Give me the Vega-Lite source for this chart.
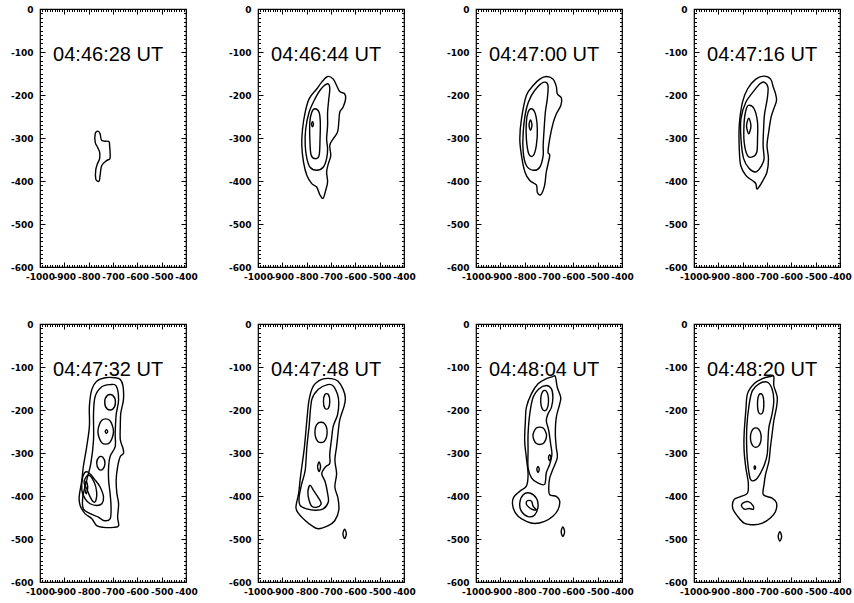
{
"$schema": "https://vega.github.io/schema/vega-lite/v6.json",
"padding": {"left": 9, "top": 3, "right": 0, "bottom": 0},
"background": "white",
"data": {"values": [
{"t":"04:46:28 UT","c":1,"i":0,"x":-773,"y":-290},{"t":"04:46:28 UT","c":1,"i":1,"x":-762,"y":-284},{"t":"04:46:28 UT","c":1,"i":2,"x":-753,"y":-290},{"t":"04:46:28 UT","c":1,"i":3,"x":-746,"y":-306},{"t":"04:46:28 UT","c":1,"i":4,"x":-718,"y":-308},{"t":"04:46:28 UT","c":1,"i":5,"x":-714,"y":-317},{"t":"04:46:28 UT","c":1,"i":6,"x":-712,"y":-347},{"t":"04:46:28 UT","c":1,"i":7,"x":-725,"y":-352},{"t":"04:46:28 UT","c":1,"i":8,"x":-746,"y":-364},{"t":"04:46:28 UT","c":1,"i":9,"x":-753,"y":-387},{"t":"04:46:28 UT","c":1,"i":10,"x":-756,"y":-399},{"t":"04:46:28 UT","c":1,"i":11,"x":-762,"y":-401},{"t":"04:46:28 UT","c":1,"i":12,"x":-771,"y":-395},{"t":"04:46:28 UT","c":1,"i":13,"x":-771,"y":-375},{"t":"04:46:28 UT","c":1,"i":14,"x":-764,"y":-360},{"t":"04:46:28 UT","c":1,"i":15,"x":-755,"y":-348},{"t":"04:46:28 UT","c":1,"i":16,"x":-755,"y":-333},{"t":"04:46:28 UT","c":1,"i":17,"x":-764,"y":-321},{"t":"04:46:28 UT","c":1,"i":18,"x":-773,"y":-310},

{"t":"04:46:44 UT","c":1,"i":0,"x":-714,"y":-157},{"t":"04:46:44 UT","c":1,"i":1,"x":-691,"y":-163},{"t":"04:46:44 UT","c":1,"i":2,"x":-677,"y":-178},{"t":"04:46:44 UT","c":1,"i":3,"x":-664,"y":-192},{"t":"04:46:44 UT","c":1,"i":4,"x":-644,"y":-197},{"t":"04:46:44 UT","c":1,"i":5,"x":-640,"y":-209},{"t":"04:46:44 UT","c":1,"i":6,"x":-650,"y":-228},{"t":"04:46:44 UT","c":1,"i":7,"x":-664,"y":-240},{"t":"04:46:44 UT","c":1,"i":8,"x":-668,"y":-263},{"t":"04:46:44 UT","c":1,"i":9,"x":-673,"y":-286},{"t":"04:46:44 UT","c":1,"i":10,"x":-691,"y":-302},{"t":"04:46:44 UT","c":1,"i":11,"x":-705,"y":-317},{"t":"04:46:44 UT","c":1,"i":12,"x":-701,"y":-341},{"t":"04:46:44 UT","c":1,"i":13,"x":-711,"y":-360},{"t":"04:46:44 UT","c":1,"i":14,"x":-718,"y":-379},{"t":"04:46:44 UT","c":1,"i":15,"x":-714,"y":-402},{"t":"04:46:44 UT","c":1,"i":16,"x":-722,"y":-422},{"t":"04:46:44 UT","c":1,"i":17,"x":-732,"y":-440},{"t":"04:46:44 UT","c":1,"i":18,"x":-745,"y":-433},{"t":"04:46:44 UT","c":1,"i":19,"x":-759,"y":-414},{"t":"04:46:44 UT","c":1,"i":20,"x":-779,"y":-406},{"t":"04:46:44 UT","c":1,"i":21,"x":-799,"y":-387},{"t":"04:46:44 UT","c":1,"i":22,"x":-813,"y":-356},{"t":"04:46:44 UT","c":1,"i":23,"x":-820,"y":-317},{"t":"04:46:44 UT","c":1,"i":24,"x":-817,"y":-279},{"t":"04:46:44 UT","c":1,"i":25,"x":-806,"y":-240},{"t":"04:46:44 UT","c":1,"i":26,"x":-790,"y":-209},{"t":"04:46:44 UT","c":1,"i":27,"x":-759,"y":-186},{"t":"04:46:44 UT","c":1,"i":28,"x":-738,"y":-170},
{"t":"04:46:44 UT","c":2,"i":0,"x":-714,"y":-174},{"t":"04:46:44 UT","c":2,"i":1,"x":-705,"y":-184},{"t":"04:46:44 UT","c":2,"i":2,"x":-709,"y":-209},{"t":"04:46:44 UT","c":2,"i":3,"x":-714,"y":-240},{"t":"04:46:44 UT","c":2,"i":4,"x":-714,"y":-271},{"t":"04:46:44 UT","c":2,"i":5,"x":-718,"y":-302},{"t":"04:46:44 UT","c":2,"i":6,"x":-714,"y":-325},{"t":"04:46:44 UT","c":2,"i":7,"x":-718,"y":-348},{"t":"04:46:44 UT","c":2,"i":8,"x":-732,"y":-368},{"t":"04:46:44 UT","c":2,"i":9,"x":-759,"y":-375},{"t":"04:46:44 UT","c":2,"i":10,"x":-786,"y":-368},{"t":"04:46:44 UT","c":2,"i":11,"x":-799,"y":-348},{"t":"04:46:44 UT","c":2,"i":12,"x":-806,"y":-317},{"t":"04:46:44 UT","c":2,"i":13,"x":-804,"y":-279},{"t":"04:46:44 UT","c":2,"i":14,"x":-790,"y":-240},{"t":"04:46:44 UT","c":2,"i":15,"x":-766,"y":-209},{"t":"04:46:44 UT","c":2,"i":16,"x":-741,"y":-186},
{"t":"04:46:44 UT","c":3,"i":0,"x":-766,"y":-232},{"t":"04:46:44 UT","c":3,"i":1,"x":-749,"y":-240},{"t":"04:46:44 UT","c":3,"i":2,"x":-744,"y":-263},{"t":"04:46:44 UT","c":3,"i":3,"x":-745,"y":-302},{"t":"04:46:44 UT","c":3,"i":4,"x":-749,"y":-341},{"t":"04:46:44 UT","c":3,"i":5,"x":-766,"y":-348},{"t":"04:46:44 UT","c":3,"i":6,"x":-782,"y":-339},{"t":"04:46:44 UT","c":3,"i":7,"x":-787,"y":-302},{"t":"04:46:44 UT","c":3,"i":8,"x":-787,"y":-263},{"t":"04:46:44 UT","c":3,"i":9,"x":-779,"y":-240},
{"t":"04:46:44 UT","c":4,"i":0,"x":-772,"y":-268},{"t":"04:46:44 UT","c":4,"i":1,"x":-776,"y":-262},{"t":"04:46:44 UT","c":4,"i":2,"x":-780,"y":-268},{"t":"04:46:44 UT","c":4,"i":3,"x":-776,"y":-274},

{"t":"04:47:00 UT","c":1,"i":0,"x":-711,"y":-157},{"t":"04:47:00 UT","c":1,"i":1,"x":-684,"y":-163},{"t":"04:47:00 UT","c":1,"i":2,"x":-670,"y":-180},{"t":"04:47:00 UT","c":1,"i":3,"x":-666,"y":-197},{"t":"04:47:00 UT","c":1,"i":4,"x":-649,"y":-207},{"t":"04:47:00 UT","c":1,"i":5,"x":-651,"y":-224},{"t":"04:47:00 UT","c":1,"i":6,"x":-670,"y":-244},{"t":"04:47:00 UT","c":1,"i":7,"x":-684,"y":-267},{"t":"04:47:00 UT","c":1,"i":8,"x":-697,"y":-302},{"t":"04:47:00 UT","c":1,"i":9,"x":-704,"y":-333},{"t":"04:47:00 UT","c":1,"i":10,"x":-697,"y":-341},{"t":"04:47:00 UT","c":1,"i":11,"x":-711,"y":-379},{"t":"04:47:00 UT","c":1,"i":12,"x":-718,"y":-410},{"t":"04:47:00 UT","c":1,"i":13,"x":-734,"y":-432},{"t":"04:47:00 UT","c":1,"i":14,"x":-748,"y":-426},{"t":"04:47:00 UT","c":1,"i":15,"x":-752,"y":-409},{"t":"04:47:00 UT","c":1,"i":16,"x":-779,"y":-399},{"t":"04:47:00 UT","c":1,"i":17,"x":-799,"y":-379},{"t":"04:47:00 UT","c":1,"i":18,"x":-813,"y":-341},{"t":"04:47:00 UT","c":1,"i":19,"x":-820,"y":-302},{"t":"04:47:00 UT","c":1,"i":20,"x":-813,"y":-255},{"t":"04:47:00 UT","c":1,"i":21,"x":-793,"y":-201},{"t":"04:47:00 UT","c":1,"i":22,"x":-765,"y":-178},{"t":"04:47:00 UT","c":1,"i":23,"x":-738,"y":-163},
{"t":"04:47:00 UT","c":2,"i":0,"x":-718,"y":-170},{"t":"04:47:00 UT","c":2,"i":1,"x":-704,"y":-178},{"t":"04:47:00 UT","c":2,"i":2,"x":-707,"y":-209},{"t":"04:47:00 UT","c":2,"i":3,"x":-715,"y":-240},{"t":"04:47:00 UT","c":2,"i":4,"x":-720,"y":-279},{"t":"04:47:00 UT","c":2,"i":5,"x":-724,"y":-317},{"t":"04:47:00 UT","c":2,"i":6,"x":-724,"y":-341},{"t":"04:47:00 UT","c":2,"i":7,"x":-738,"y":-368},{"t":"04:47:00 UT","c":2,"i":8,"x":-765,"y":-375},{"t":"04:47:00 UT","c":2,"i":9,"x":-793,"y":-364},{"t":"04:47:00 UT","c":2,"i":10,"x":-806,"y":-333},{"t":"04:47:00 UT","c":2,"i":11,"x":-806,"y":-286},{"t":"04:47:00 UT","c":2,"i":12,"x":-793,"y":-232},{"t":"04:47:00 UT","c":2,"i":13,"x":-772,"y":-201},{"t":"04:47:00 UT","c":2,"i":14,"x":-745,"y":-180},
{"t":"04:47:00 UT","c":3,"i":0,"x":-772,"y":-232},{"t":"04:47:00 UT","c":3,"i":1,"x":-756,"y":-244},{"t":"04:47:00 UT","c":3,"i":2,"x":-748,"y":-279},{"t":"04:47:00 UT","c":3,"i":3,"x":-752,"y":-317},{"t":"04:47:00 UT","c":3,"i":4,"x":-765,"y":-341},{"t":"04:47:00 UT","c":3,"i":5,"x":-783,"y":-337},{"t":"04:47:00 UT","c":3,"i":6,"x":-793,"y":-302},{"t":"04:47:00 UT","c":3,"i":7,"x":-793,"y":-263},{"t":"04:47:00 UT","c":3,"i":8,"x":-786,"y":-240},
{"t":"04:47:00 UT","c":4,"i":0,"x":-770,"y":-270},{"t":"04:47:00 UT","c":4,"i":1,"x":-776,"y":-258},{"t":"04:47:00 UT","c":4,"i":2,"x":-782,"y":-270},{"t":"04:47:00 UT","c":4,"i":3,"x":-776,"y":-282},

{"t":"04:47:16 UT","c":1,"i":0,"x":-712,"y":-156},{"t":"04:47:16 UT","c":1,"i":1,"x":-685,"y":-163},{"t":"04:47:16 UT","c":1,"i":2,"x":-674,"y":-182},{"t":"04:47:16 UT","c":1,"i":3,"x":-665,"y":-197},{"t":"04:47:16 UT","c":1,"i":4,"x":-661,"y":-213},{"t":"04:47:16 UT","c":1,"i":5,"x":-672,"y":-232},{"t":"04:47:16 UT","c":1,"i":6,"x":-683,"y":-251},{"t":"04:47:16 UT","c":1,"i":7,"x":-693,"y":-286},{"t":"04:47:16 UT","c":1,"i":8,"x":-700,"y":-317},{"t":"04:47:16 UT","c":1,"i":9,"x":-694,"y":-348},{"t":"04:47:16 UT","c":1,"i":10,"x":-700,"y":-379},{"t":"04:47:16 UT","c":1,"i":11,"x":-717,"y":-399},{"t":"04:47:16 UT","c":1,"i":12,"x":-733,"y":-414},{"t":"04:47:16 UT","c":1,"i":13,"x":-742,"y":-418},{"t":"04:47:16 UT","c":1,"i":14,"x":-746,"y":-406},{"t":"04:47:16 UT","c":1,"i":15,"x":-760,"y":-399},{"t":"04:47:16 UT","c":1,"i":16,"x":-787,"y":-387},{"t":"04:47:16 UT","c":1,"i":17,"x":-808,"y":-364},{"t":"04:47:16 UT","c":1,"i":18,"x":-814,"y":-325},{"t":"04:47:16 UT","c":1,"i":19,"x":-814,"y":-271},{"t":"04:47:16 UT","c":1,"i":20,"x":-801,"y":-217},{"t":"04:47:16 UT","c":1,"i":21,"x":-780,"y":-186},{"t":"04:47:16 UT","c":1,"i":22,"x":-746,"y":-163},
{"t":"04:47:16 UT","c":2,"i":0,"x":-712,"y":-170},{"t":"04:47:16 UT","c":2,"i":1,"x":-696,"y":-182},{"t":"04:47:16 UT","c":2,"i":2,"x":-699,"y":-209},{"t":"04:47:16 UT","c":2,"i":3,"x":-710,"y":-244},{"t":"04:47:16 UT","c":2,"i":4,"x":-714,"y":-279},{"t":"04:47:16 UT","c":2,"i":5,"x":-716,"y":-317},{"t":"04:47:16 UT","c":2,"i":6,"x":-712,"y":-348},{"t":"04:47:16 UT","c":2,"i":7,"x":-722,"y":-364},{"t":"04:47:16 UT","c":2,"i":8,"x":-746,"y":-379},{"t":"04:47:16 UT","c":2,"i":9,"x":-773,"y":-371},{"t":"04:47:16 UT","c":2,"i":10,"x":-796,"y":-348},{"t":"04:47:16 UT","c":2,"i":11,"x":-807,"y":-302},{"t":"04:47:16 UT","c":2,"i":12,"x":-807,"y":-255},{"t":"04:47:16 UT","c":2,"i":13,"x":-787,"y":-217},{"t":"04:47:16 UT","c":2,"i":14,"x":-753,"y":-190},{"t":"04:47:16 UT","c":2,"i":15,"x":-729,"y":-174},
{"t":"04:47:16 UT","c":3,"i":0,"x":-776,"y":-224},{"t":"04:47:16 UT","c":3,"i":1,"x":-753,"y":-232},{"t":"04:47:16 UT","c":3,"i":2,"x":-739,"y":-263},{"t":"04:47:16 UT","c":3,"i":3,"x":-739,"y":-302},{"t":"04:47:16 UT","c":3,"i":4,"x":-742,"y":-333},{"t":"04:47:16 UT","c":3,"i":5,"x":-760,"y":-344},{"t":"04:47:16 UT","c":3,"i":6,"x":-780,"y":-341},{"t":"04:47:16 UT","c":3,"i":7,"x":-794,"y":-309},{"t":"04:47:16 UT","c":3,"i":8,"x":-794,"y":-263},{"t":"04:47:16 UT","c":3,"i":9,"x":-787,"y":-236},
{"t":"04:47:16 UT","c":4,"i":0,"x":-766,"y":-272},{"t":"04:47:16 UT","c":4,"i":1,"x":-775,"y":-254},{"t":"04:47:16 UT","c":4,"i":2,"x":-784,"y":-272},{"t":"04:47:16 UT","c":4,"i":3,"x":-775,"y":-290},

{"t":"04:47:32 UT","c":1,"i":0,"x":-691,"y":-125},{"t":"04:47:32 UT","c":1,"i":1,"x":-670,"y":-129},{"t":"04:47:32 UT","c":1,"i":2,"x":-659,"y":-144},{"t":"04:47:32 UT","c":1,"i":3,"x":-657,"y":-176},{"t":"04:47:32 UT","c":1,"i":4,"x":-668,"y":-207},{"t":"04:47:32 UT","c":1,"i":5,"x":-670,"y":-238},{"t":"04:47:32 UT","c":1,"i":6,"x":-670,"y":-269},{"t":"04:47:32 UT","c":1,"i":7,"x":-659,"y":-289},{"t":"04:47:32 UT","c":1,"i":8,"x":-657,"y":-301},{"t":"04:47:32 UT","c":1,"i":9,"x":-670,"y":-308},{"t":"04:47:32 UT","c":1,"i":10,"x":-681,"y":-332},{"t":"04:47:32 UT","c":1,"i":11,"x":-687,"y":-363},{"t":"04:47:32 UT","c":1,"i":12,"x":-684,"y":-394},{"t":"04:47:32 UT","c":1,"i":13,"x":-677,"y":-418},{"t":"04:47:32 UT","c":1,"i":14,"x":-681,"y":-449},{"t":"04:47:32 UT","c":1,"i":15,"x":-677,"y":-469},{"t":"04:47:32 UT","c":1,"i":16,"x":-698,"y":-473},{"t":"04:47:32 UT","c":1,"i":17,"x":-739,"y":-473},{"t":"04:47:32 UT","c":1,"i":18,"x":-767,"y":-469},{"t":"04:47:32 UT","c":1,"i":19,"x":-787,"y":-453},{"t":"04:47:32 UT","c":1,"i":20,"x":-815,"y":-441},{"t":"04:47:32 UT","c":1,"i":21,"x":-835,"y":-422},{"t":"04:47:32 UT","c":1,"i":22,"x":-839,"y":-402},{"t":"04:47:32 UT","c":1,"i":23,"x":-828,"y":-363},{"t":"04:47:32 UT","c":1,"i":24,"x":-822,"y":-332},{"t":"04:47:32 UT","c":1,"i":25,"x":-808,"y":-285},{"t":"04:47:32 UT","c":1,"i":26,"x":-797,"y":-238},{"t":"04:47:32 UT","c":1,"i":27,"x":-797,"y":-191},{"t":"04:47:32 UT","c":1,"i":28,"x":-787,"y":-152},{"t":"04:47:32 UT","c":1,"i":29,"x":-767,"y":-133},{"t":"04:47:32 UT","c":1,"i":30,"x":-732,"y":-125},
{"t":"04:47:32 UT","c":2,"i":0,"x":-712,"y":-141},{"t":"04:47:32 UT","c":2,"i":1,"x":-687,"y":-144},{"t":"04:47:32 UT","c":2,"i":2,"x":-677,"y":-176},{"t":"04:47:32 UT","c":2,"i":3,"x":-687,"y":-211},{"t":"04:47:32 UT","c":2,"i":4,"x":-691,"y":-254},{"t":"04:47:32 UT","c":2,"i":5,"x":-691,"y":-285},{"t":"04:47:32 UT","c":2,"i":6,"x":-712,"y":-308},{"t":"04:47:32 UT","c":2,"i":7,"x":-718,"y":-332},{"t":"04:47:32 UT","c":2,"i":8,"x":-718,"y":-363},{"t":"04:47:32 UT","c":2,"i":9,"x":-712,"y":-394},{"t":"04:47:32 UT","c":2,"i":10,"x":-708,"y":-426},{"t":"04:47:32 UT","c":2,"i":11,"x":-712,"y":-453},{"t":"04:47:32 UT","c":2,"i":12,"x":-739,"y":-457},{"t":"04:47:32 UT","c":2,"i":13,"x":-760,"y":-449},{"t":"04:47:32 UT","c":2,"i":14,"x":-794,"y":-441},{"t":"04:47:32 UT","c":2,"i":15,"x":-822,"y":-430},{"t":"04:47:32 UT","c":2,"i":16,"x":-824,"y":-402},{"t":"04:47:32 UT","c":2,"i":17,"x":-808,"y":-363},{"t":"04:47:32 UT","c":2,"i":18,"x":-791,"y":-324},{"t":"04:47:32 UT","c":2,"i":19,"x":-780,"y":-269},{"t":"04:47:32 UT","c":2,"i":20,"x":-780,"y":-207},{"t":"04:47:32 UT","c":2,"i":21,"x":-773,"y":-168},{"t":"04:47:32 UT","c":2,"i":22,"x":-746,"y":-146},
{"t":"04:47:32 UT","c":3,"i":0,"x":-690,"y":-182},{"t":"04:47:32 UT","c":3,"i":1,"x":-701,"y":-166},{"t":"04:47:32 UT","c":3,"i":2,"x":-723,"y":-166},{"t":"04:47:32 UT","c":3,"i":3,"x":-734,"y":-182},{"t":"04:47:32 UT","c":3,"i":4,"x":-723,"y":-198},{"t":"04:47:32 UT","c":3,"i":5,"x":-701,"y":-198},
{"t":"04:47:32 UT","c":4,"i":0,"x":-698,"y":-250},{"t":"04:47:32 UT","c":4,"i":1,"x":-714,"y":-224},{"t":"04:47:32 UT","c":4,"i":2,"x":-746,"y":-224},{"t":"04:47:32 UT","c":4,"i":3,"x":-762,"y":-250},{"t":"04:47:32 UT","c":4,"i":4,"x":-746,"y":-276},{"t":"04:47:32 UT","c":4,"i":5,"x":-714,"y":-276},
{"t":"04:47:32 UT","c":5,"i":0,"x":-722,"y":-250},{"t":"04:47:32 UT","c":5,"i":1,"x":-727,"y":-246},{"t":"04:47:32 UT","c":5,"i":2,"x":-732,"y":-250},{"t":"04:47:32 UT","c":5,"i":3,"x":-727,"y":-254},
{"t":"04:47:32 UT","c":6,"i":0,"x":-733,"y":-324},{"t":"04:47:32 UT","c":6,"i":1,"x":-742,"y":-310},{"t":"04:47:32 UT","c":6,"i":2,"x":-758,"y":-310},{"t":"04:47:32 UT","c":6,"i":3,"x":-767,"y":-324},{"t":"04:47:32 UT","c":6,"i":4,"x":-758,"y":-338},{"t":"04:47:32 UT","c":6,"i":5,"x":-742,"y":-338},
{"t":"04:47:32 UT","c":7,"i":0,"x":-805,"y":-344},{"t":"04:47:32 UT","c":7,"i":1,"x":-773,"y":-363},{"t":"04:47:32 UT","c":7,"i":2,"x":-753,"y":-379},{"t":"04:47:32 UT","c":7,"i":3,"x":-739,"y":-402},{"t":"04:47:32 UT","c":7,"i":4,"x":-746,"y":-418},{"t":"04:47:32 UT","c":7,"i":5,"x":-767,"y":-422},{"t":"04:47:32 UT","c":7,"i":6,"x":-794,"y":-418},{"t":"04:47:32 UT","c":7,"i":7,"x":-815,"y":-406},{"t":"04:47:32 UT","c":7,"i":8,"x":-828,"y":-387},{"t":"04:47:32 UT","c":7,"i":9,"x":-824,"y":-355},
{"t":"04:47:32 UT","c":8,"i":0,"x":-801,"y":-351},{"t":"04:47:32 UT","c":8,"i":1,"x":-778,"y":-367},{"t":"04:47:32 UT","c":8,"i":2,"x":-767,"y":-391},{"t":"04:47:32 UT","c":8,"i":3,"x":-770,"y":-410},{"t":"04:47:32 UT","c":8,"i":4,"x":-780,"y":-414},{"t":"04:47:32 UT","c":8,"i":5,"x":-794,"y":-402},{"t":"04:47:32 UT","c":8,"i":6,"x":-808,"y":-383},{"t":"04:47:32 UT","c":8,"i":7,"x":-819,"y":-367},
{"t":"04:47:32 UT","c":9,"i":0,"x":-804,"y":-380},{"t":"04:47:32 UT","c":9,"i":1,"x":-810,"y":-365},{"t":"04:47:32 UT","c":9,"i":2,"x":-816,"y":-380},{"t":"04:47:32 UT","c":9,"i":3,"x":-810,"y":-395},

{"t":"04:47:48 UT","c":1,"i":0,"x":-698,"y":-127},{"t":"04:47:48 UT","c":1,"i":1,"x":-671,"y":-133},{"t":"04:47:48 UT","c":1,"i":2,"x":-650,"y":-152},{"t":"04:47:48 UT","c":1,"i":3,"x":-641,"y":-172},{"t":"04:47:48 UT","c":1,"i":4,"x":-646,"y":-191},{"t":"04:47:48 UT","c":1,"i":5,"x":-664,"y":-223},{"t":"04:47:48 UT","c":1,"i":6,"x":-671,"y":-254},{"t":"04:47:48 UT","c":1,"i":7,"x":-677,"y":-285},{"t":"04:47:48 UT","c":1,"i":8,"x":-684,"y":-316},{"t":"04:47:48 UT","c":1,"i":9,"x":-677,"y":-348},{"t":"04:47:48 UT","c":1,"i":10,"x":-684,"y":-379},{"t":"04:47:48 UT","c":1,"i":11,"x":-671,"y":-406},{"t":"04:47:48 UT","c":1,"i":12,"x":-668,"y":-433},{"t":"04:47:48 UT","c":1,"i":13,"x":-684,"y":-457},{"t":"04:47:48 UT","c":1,"i":14,"x":-711,"y":-469},{"t":"04:47:48 UT","c":1,"i":15,"x":-752,"y":-476},{"t":"04:47:48 UT","c":1,"i":16,"x":-779,"y":-469},{"t":"04:47:48 UT","c":1,"i":17,"x":-806,"y":-457},{"t":"04:47:48 UT","c":1,"i":18,"x":-833,"y":-441},{"t":"04:47:48 UT","c":1,"i":19,"x":-844,"y":-426},{"t":"04:47:48 UT","c":1,"i":20,"x":-833,"y":-394},{"t":"04:47:48 UT","c":1,"i":21,"x":-827,"y":-363},{"t":"04:47:48 UT","c":1,"i":22,"x":-820,"y":-332},{"t":"04:47:48 UT","c":1,"i":23,"x":-809,"y":-285},{"t":"04:47:48 UT","c":1,"i":24,"x":-799,"y":-223},{"t":"04:47:48 UT","c":1,"i":25,"x":-790,"y":-176},{"t":"04:47:48 UT","c":1,"i":26,"x":-772,"y":-144},{"t":"04:47:48 UT","c":1,"i":27,"x":-738,"y":-129},
{"t":"04:47:48 UT","c":2,"i":0,"x":-714,"y":-141},{"t":"04:47:48 UT","c":2,"i":1,"x":-691,"y":-144},{"t":"04:47:48 UT","c":2,"i":2,"x":-673,"y":-164},{"t":"04:47:48 UT","c":2,"i":3,"x":-668,"y":-184},{"t":"04:47:48 UT","c":2,"i":4,"x":-673,"y":-211},{"t":"04:47:48 UT","c":2,"i":5,"x":-691,"y":-238},{"t":"04:47:48 UT","c":2,"i":6,"x":-698,"y":-269},{"t":"04:47:48 UT","c":2,"i":7,"x":-705,"y":-301},{"t":"04:47:48 UT","c":2,"i":8,"x":-705,"y":-324},{"t":"04:47:48 UT","c":2,"i":9,"x":-722,"y":-332},{"t":"04:47:48 UT","c":2,"i":10,"x":-738,"y":-348},{"t":"04:47:48 UT","c":2,"i":11,"x":-724,"y":-367},{"t":"04:47:48 UT","c":2,"i":12,"x":-714,"y":-394},{"t":"04:47:48 UT","c":2,"i":13,"x":-711,"y":-414},{"t":"04:47:48 UT","c":2,"i":14,"x":-732,"y":-430},{"t":"04:47:48 UT","c":2,"i":15,"x":-765,"y":-433},{"t":"04:47:48 UT","c":2,"i":16,"x":-799,"y":-430},{"t":"04:47:48 UT","c":2,"i":17,"x":-827,"y":-422},{"t":"04:47:48 UT","c":2,"i":18,"x":-831,"y":-402},{"t":"04:47:48 UT","c":2,"i":19,"x":-820,"y":-371},{"t":"04:47:48 UT","c":2,"i":20,"x":-806,"y":-340},{"t":"04:47:48 UT","c":2,"i":21,"x":-799,"y":-285},{"t":"04:47:48 UT","c":2,"i":22,"x":-790,"y":-238},{"t":"04:47:48 UT","c":2,"i":23,"x":-779,"y":-176},{"t":"04:47:48 UT","c":2,"i":24,"x":-752,"y":-152},
{"t":"04:47:48 UT","c":3,"i":0,"x":-705,"y":-180},{"t":"04:47:48 UT","c":3,"i":1,"x":-711,"y":-164},{"t":"04:47:48 UT","c":3,"i":2,"x":-725,"y":-164},{"t":"04:47:48 UT","c":3,"i":3,"x":-731,"y":-180},{"t":"04:47:48 UT","c":3,"i":4,"x":-725,"y":-196},{"t":"04:47:48 UT","c":3,"i":5,"x":-711,"y":-196},
{"t":"04:47:48 UT","c":4,"i":0,"x":-716,"y":-252},{"t":"04:47:48 UT","c":4,"i":1,"x":-728,"y":-231},{"t":"04:47:48 UT","c":4,"i":2,"x":-754,"y":-231},{"t":"04:47:48 UT","c":4,"i":3,"x":-766,"y":-252},{"t":"04:47:48 UT","c":4,"i":4,"x":-754,"y":-273},{"t":"04:47:48 UT","c":4,"i":5,"x":-728,"y":-273},
{"t":"04:47:48 UT","c":5,"i":0,"x":-743,"y":-332},{"t":"04:47:48 UT","c":5,"i":1,"x":-749,"y":-321},{"t":"04:47:48 UT","c":5,"i":2,"x":-755,"y":-332},{"t":"04:47:48 UT","c":5,"i":3,"x":-749,"y":-343},
{"t":"04:47:48 UT","c":6,"i":0,"x":-786,"y":-375},{"t":"04:47:48 UT","c":6,"i":1,"x":-772,"y":-387},{"t":"04:47:48 UT","c":6,"i":2,"x":-745,"y":-410},{"t":"04:47:48 UT","c":6,"i":3,"x":-741,"y":-419},{"t":"04:47:48 UT","c":6,"i":4,"x":-758,"y":-426},{"t":"04:47:48 UT","c":6,"i":5,"x":-779,"y":-424},{"t":"04:47:48 UT","c":6,"i":6,"x":-790,"y":-410},{"t":"04:47:48 UT","c":6,"i":7,"x":-795,"y":-391},
{"t":"04:47:48 UT","c":7,"i":0,"x":-637,"y":-488},{"t":"04:47:48 UT","c":7,"i":1,"x":-644,"y":-477},{"t":"04:47:48 UT","c":7,"i":2,"x":-651,"y":-488},{"t":"04:47:48 UT","c":7,"i":3,"x":-644,"y":-499},

{"t":"04:48:04 UT","c":1,"i":0,"x":-674,"y":-122},{"t":"04:48:04 UT","c":1,"i":1,"x":-666,"y":-147},{"t":"04:48:04 UT","c":1,"i":2,"x":-652,"y":-170},{"t":"04:48:04 UT","c":1,"i":3,"x":-656,"y":-186},{"t":"04:48:04 UT","c":1,"i":4,"x":-670,"y":-217},{"t":"04:48:04 UT","c":1,"i":5,"x":-674,"y":-256},{"t":"04:48:04 UT","c":1,"i":6,"x":-670,"y":-287},{"t":"04:48:04 UT","c":1,"i":7,"x":-666,"y":-311},{"t":"04:48:04 UT","c":1,"i":8,"x":-684,"y":-338},{"t":"04:48:04 UT","c":1,"i":9,"x":-697,"y":-358},{"t":"04:48:04 UT","c":1,"i":10,"x":-701,"y":-381},{"t":"04:48:04 UT","c":1,"i":11,"x":-697,"y":-397},{"t":"04:48:04 UT","c":1,"i":12,"x":-670,"y":-401},{"t":"04:48:04 UT","c":1,"i":13,"x":-656,"y":-412},{"t":"04:48:04 UT","c":1,"i":14,"x":-663,"y":-432},{"t":"04:48:04 UT","c":1,"i":15,"x":-684,"y":-447},{"t":"04:48:04 UT","c":1,"i":16,"x":-718,"y":-459},{"t":"04:48:04 UT","c":1,"i":17,"x":-759,"y":-464},{"t":"04:48:04 UT","c":1,"i":18,"x":-793,"y":-459},{"t":"04:48:04 UT","c":1,"i":19,"x":-827,"y":-447},{"t":"04:48:04 UT","c":1,"i":20,"x":-847,"y":-428},{"t":"04:48:04 UT","c":1,"i":21,"x":-847,"y":-405},{"t":"04:48:04 UT","c":1,"i":22,"x":-820,"y":-389},{"t":"04:48:04 UT","c":1,"i":23,"x":-793,"y":-377},{"t":"04:48:04 UT","c":1,"i":24,"x":-786,"y":-350},{"t":"04:48:04 UT","c":1,"i":25,"x":-793,"y":-311},{"t":"04:48:04 UT","c":1,"i":26,"x":-800,"y":-272},{"t":"04:48:04 UT","c":1,"i":27,"x":-797,"y":-225},{"t":"04:48:04 UT","c":1,"i":28,"x":-793,"y":-194},{"t":"04:48:04 UT","c":1,"i":29,"x":-772,"y":-162},{"t":"04:48:04 UT","c":1,"i":30,"x":-745,"y":-139},{"t":"04:48:04 UT","c":1,"i":31,"x":-711,"y":-127},{"t":"04:48:04 UT","c":1,"i":32,"x":-688,"y":-123},
{"t":"04:48:04 UT","c":2,"i":0,"x":-711,"y":-143},{"t":"04:48:04 UT","c":2,"i":1,"x":-690,"y":-151},{"t":"04:48:04 UT","c":2,"i":2,"x":-684,"y":-170},{"t":"04:48:04 UT","c":2,"i":3,"x":-690,"y":-194},{"t":"04:48:04 UT","c":2,"i":4,"x":-704,"y":-209},{"t":"04:48:04 UT","c":2,"i":5,"x":-711,"y":-225},{"t":"04:48:04 UT","c":2,"i":6,"x":-701,"y":-248},{"t":"04:48:04 UT","c":2,"i":7,"x":-693,"y":-280},{"t":"04:48:04 UT","c":2,"i":8,"x":-688,"y":-303},{"t":"04:48:04 UT","c":2,"i":9,"x":-697,"y":-326},{"t":"04:48:04 UT","c":2,"i":10,"x":-711,"y":-346},{"t":"04:48:04 UT","c":2,"i":11,"x":-718,"y":-373},{"t":"04:48:04 UT","c":2,"i":12,"x":-748,"y":-369},{"t":"04:48:04 UT","c":2,"i":13,"x":-772,"y":-358},{"t":"04:48:04 UT","c":2,"i":14,"x":-786,"y":-334},{"t":"04:48:04 UT","c":2,"i":15,"x":-786,"y":-295},{"t":"04:48:04 UT","c":2,"i":16,"x":-786,"y":-256},{"t":"04:48:04 UT","c":2,"i":17,"x":-779,"y":-209},{"t":"04:48:04 UT","c":2,"i":18,"x":-765,"y":-170},{"t":"04:48:04 UT","c":2,"i":19,"x":-742,"y":-151},
{"t":"04:48:04 UT","c":3,"i":0,"x":-806,"y":-397},{"t":"04:48:04 UT","c":3,"i":1,"x":-779,"y":-393},{"t":"04:48:04 UT","c":3,"i":2,"x":-752,"y":-405},{"t":"04:48:04 UT","c":3,"i":3,"x":-745,"y":-424},{"t":"04:48:04 UT","c":3,"i":4,"x":-759,"y":-444},{"t":"04:48:04 UT","c":3,"i":5,"x":-786,"y":-448},{"t":"04:48:04 UT","c":3,"i":6,"x":-813,"y":-436},{"t":"04:48:04 UT","c":3,"i":7,"x":-820,"y":-416},
{"t":"04:48:04 UT","c":4,"i":0,"x":-789,"y":-411},{"t":"04:48:04 UT","c":4,"i":1,"x":-772,"y":-412},{"t":"04:48:04 UT","c":4,"i":2,"x":-765,"y":-424},{"t":"04:48:04 UT","c":4,"i":3,"x":-752,"y":-432},{"t":"04:48:04 UT","c":4,"i":4,"x":-765,"y":-432},{"t":"04:48:04 UT","c":4,"i":5,"x":-783,"y":-426},{"t":"04:48:04 UT","c":4,"i":6,"x":-793,"y":-419},
{"t":"04:48:04 UT","c":5,"i":0,"x":-702,"y":-178},{"t":"04:48:04 UT","c":5,"i":1,"x":-710,"y":-157},{"t":"04:48:04 UT","c":5,"i":2,"x":-726,"y":-157},{"t":"04:48:04 UT","c":5,"i":3,"x":-734,"y":-178},{"t":"04:48:04 UT","c":5,"i":4,"x":-726,"y":-199},{"t":"04:48:04 UT","c":5,"i":5,"x":-710,"y":-199},
{"t":"04:48:04 UT","c":6,"i":0,"x":-710,"y":-260},{"t":"04:48:04 UT","c":6,"i":1,"x":-724,"y":-242},{"t":"04:48:04 UT","c":6,"i":2,"x":-752,"y":-242},{"t":"04:48:04 UT","c":6,"i":3,"x":-766,"y":-260},{"t":"04:48:04 UT","c":6,"i":4,"x":-752,"y":-278},{"t":"04:48:04 UT","c":6,"i":5,"x":-724,"y":-278},
{"t":"04:48:04 UT","c":7,"i":0,"x":-740,"y":-338},{"t":"04:48:04 UT","c":7,"i":1,"x":-745,"y":-331},{"t":"04:48:04 UT","c":7,"i":2,"x":-750,"y":-338},{"t":"04:48:04 UT","c":7,"i":3,"x":-745,"y":-345},
{"t":"04:48:04 UT","c":8,"i":0,"x":-692,"y":-311},{"t":"04:48:04 UT","c":8,"i":1,"x":-697,"y":-304},{"t":"04:48:04 UT","c":8,"i":2,"x":-702,"y":-311},{"t":"04:48:04 UT","c":8,"i":3,"x":-697,"y":-318},
{"t":"04:48:04 UT","c":9,"i":0,"x":-636,"y":-483},{"t":"04:48:04 UT","c":9,"i":1,"x":-643,"y":-472},{"t":"04:48:04 UT","c":9,"i":2,"x":-650,"y":-483},{"t":"04:48:04 UT","c":9,"i":3,"x":-643,"y":-494},

{"t":"04:48:20 UT","c":1,"i":0,"x":-672,"y":-122},{"t":"04:48:20 UT","c":1,"i":1,"x":-672,"y":-143},{"t":"04:48:20 UT","c":1,"i":2,"x":-658,"y":-170},{"t":"04:48:20 UT","c":1,"i":3,"x":-661,"y":-194},{"t":"04:48:20 UT","c":1,"i":4,"x":-672,"y":-225},{"t":"04:48:20 UT","c":1,"i":5,"x":-679,"y":-256},{"t":"04:48:20 UT","c":1,"i":6,"x":-686,"y":-287},{"t":"04:48:20 UT","c":1,"i":7,"x":-692,"y":-319},{"t":"04:48:20 UT","c":1,"i":8,"x":-706,"y":-350},{"t":"04:48:20 UT","c":1,"i":9,"x":-712,"y":-373},{"t":"04:48:20 UT","c":1,"i":10,"x":-715,"y":-397},{"t":"04:48:20 UT","c":1,"i":11,"x":-679,"y":-405},{"t":"04:48:20 UT","c":1,"i":12,"x":-661,"y":-416},{"t":"04:48:20 UT","c":1,"i":13,"x":-665,"y":-436},{"t":"04:48:20 UT","c":1,"i":14,"x":-686,"y":-451},{"t":"04:48:20 UT","c":1,"i":15,"x":-719,"y":-463},{"t":"04:48:20 UT","c":1,"i":16,"x":-753,"y":-467},{"t":"04:48:20 UT","c":1,"i":17,"x":-794,"y":-463},{"t":"04:48:20 UT","c":1,"i":18,"x":-821,"y":-447},{"t":"04:48:20 UT","c":1,"i":19,"x":-841,"y":-428},{"t":"04:48:20 UT","c":1,"i":20,"x":-835,"y":-408},{"t":"04:48:20 UT","c":1,"i":21,"x":-807,"y":-401},{"t":"04:48:20 UT","c":1,"i":22,"x":-780,"y":-393},{"t":"04:48:20 UT","c":1,"i":23,"x":-777,"y":-369},{"t":"04:48:20 UT","c":1,"i":24,"x":-787,"y":-334},{"t":"04:48:20 UT","c":1,"i":25,"x":-794,"y":-295},{"t":"04:48:20 UT","c":1,"i":26,"x":-794,"y":-256},{"t":"04:48:20 UT","c":1,"i":27,"x":-787,"y":-201},{"t":"04:48:20 UT","c":1,"i":28,"x":-780,"y":-162},{"t":"04:48:20 UT","c":1,"i":29,"x":-753,"y":-139},{"t":"04:48:20 UT","c":1,"i":30,"x":-719,"y":-127},{"t":"04:48:20 UT","c":1,"i":31,"x":-686,"y":-122},
{"t":"04:48:20 UT","c":2,"i":0,"x":-699,"y":-135},{"t":"04:48:20 UT","c":2,"i":1,"x":-679,"y":-151},{"t":"04:48:20 UT","c":2,"i":2,"x":-672,"y":-178},{"t":"04:48:20 UT","c":2,"i":3,"x":-679,"y":-209},{"t":"04:48:20 UT","c":2,"i":4,"x":-692,"y":-240},{"t":"04:48:20 UT","c":2,"i":5,"x":-696,"y":-272},{"t":"04:48:20 UT","c":2,"i":6,"x":-699,"y":-303},{"t":"04:48:20 UT","c":2,"i":7,"x":-710,"y":-326},{"t":"04:48:20 UT","c":2,"i":8,"x":-726,"y":-346},{"t":"04:48:20 UT","c":2,"i":9,"x":-746,"y":-362},{"t":"04:48:20 UT","c":2,"i":10,"x":-767,"y":-362},{"t":"04:48:20 UT","c":2,"i":11,"x":-777,"y":-334},{"t":"04:48:20 UT","c":2,"i":12,"x":-783,"y":-295},{"t":"04:48:20 UT","c":2,"i":13,"x":-783,"y":-240},{"t":"04:48:20 UT","c":2,"i":14,"x":-773,"y":-186},{"t":"04:48:20 UT","c":2,"i":15,"x":-760,"y":-155},{"t":"04:48:20 UT","c":2,"i":16,"x":-733,"y":-139},
{"t":"04:48:20 UT","c":3,"i":0,"x":-713,"y":-186},{"t":"04:48:20 UT","c":3,"i":1,"x":-719,"y":-165},{"t":"04:48:20 UT","c":3,"i":2,"x":-733,"y":-165},{"t":"04:48:20 UT","c":3,"i":3,"x":-739,"y":-186},{"t":"04:48:20 UT","c":3,"i":4,"x":-733,"y":-207},{"t":"04:48:20 UT","c":3,"i":5,"x":-719,"y":-207},
{"t":"04:48:20 UT","c":4,"i":0,"x":-724,"y":-264},{"t":"04:48:20 UT","c":4,"i":1,"x":-735,"y":-244},{"t":"04:48:20 UT","c":4,"i":2,"x":-757,"y":-244},{"t":"04:48:20 UT","c":4,"i":3,"x":-768,"y":-264},{"t":"04:48:20 UT","c":4,"i":4,"x":-757,"y":-284},{"t":"04:48:20 UT","c":4,"i":5,"x":-735,"y":-284},
{"t":"04:48:20 UT","c":5,"i":0,"x":-747,"y":-334},{"t":"04:48:20 UT","c":5,"i":1,"x":-750,"y":-330},{"t":"04:48:20 UT","c":5,"i":2,"x":-753,"y":-334},{"t":"04:48:20 UT","c":5,"i":3,"x":-750,"y":-338},
{"t":"04:48:20 UT","c":6,"i":0,"x":-798,"y":-416},{"t":"04:48:20 UT","c":6,"i":1,"x":-777,"y":-413},{"t":"04:48:20 UT","c":6,"i":2,"x":-757,"y":-423},{"t":"04:48:20 UT","c":6,"i":3,"x":-757,"y":-431},{"t":"04:48:20 UT","c":6,"i":4,"x":-773,"y":-429},{"t":"04:48:20 UT","c":6,"i":5,"x":-791,"y":-431},{"t":"04:48:20 UT","c":6,"i":6,"x":-805,"y":-423},
{"t":"04:48:20 UT","c":7,"i":0,"x":-640,"y":-494},{"t":"04:48:20 UT","c":7,"i":1,"x":-647,"y":-483},{"t":"04:48:20 UT","c":7,"i":2,"x":-654,"y":-494},{"t":"04:48:20 UT","c":7,"i":3,"x":-647,"y":-505}
]},
"facet": {"field": "t", "type": "nominal", "header": {"title": null, "labelExpr": "''", "labelPadding": 0, "labelFontSize": 1}},
"columns": 4,
"spacing": {"row": 36, "column": 29},
"resolve": {"axis": {"x": "independent", "y": "independent"}},
"spec": {
  "width": 146,
  "height": 258,
  "layer": [
    {
      "mark": {"type": "line", "interpolate": "cardinal-closed", "stroke": "black", "strokeWidth": 1.4},
      "encoding": {
        "x": {"field": "x", "type": "quantitative", "scale": {"domain": [-1000, -400], "nice": false, "zero": false},
              "axis": {"orient": "bottom", "title": null, "domain": false, "offset": -5, "tickSize": 5, "values": [-1000,-900,-800,-700,-600,-500,-400],
                       "labelExpr": "'' + datum.value", "labelPadding": 5}},
        "y": {"field": "y", "type": "quantitative", "scale": {"domain": [-600, 0], "nice": false, "zero": false},
              "axis": {"orient": "left", "title": null, "domain": false, "offset": -5, "tickSize": 5, "values": [0,-100,-200,-300,-400,-500,-600],
                       "labelExpr": "'' + datum.value", "labelPadding": 7}},
        "detail": {"field": "c", "type": "nominal"},
        "order": {"field": "i", "type": "quantitative"}
      }
    },
    {
      "mark": {"type": "line", "strokeOpacity": 0},
      "encoding": {
        "x": {"field": "x", "type": "quantitative", "scale": {"domain": [-1000, -400], "nice": false, "zero": false},
              "axis": {"orient": "top", "title": null, "labels": false, "domain": false, "offset": -5, "tickSize": 5, "values": [-1000,-900,-800,-700,-600,-500,-400]}},
        "y": {"field": "y", "type": "quantitative", "scale": {"domain": [-600, 0], "nice": false, "zero": false},
              "axis": {"orient": "right", "title": null, "labels": false, "domain": false, "offset": -5, "tickSize": 5, "values": [0,-100,-200,-300,-400,-500,-600]}},
        "detail": {"field": "c", "type": "nominal"},
        "order": {"field": "i", "type": "quantitative"}
      }
    },
    {
      "mark": {"type": "line", "strokeOpacity": 0},
      "encoding": {
        "x": {"field": "x", "type": "quantitative", "scale": {"domain": [-1000, -400], "nice": false, "zero": false},
              "axis": {"orient": "bottom", "title": null, "labels": false, "domain": false, "offset": -2.5, "tickSize": 2.5, "values": [-1000,-990,-980,-970,-960,-950,-940,-930,-920,-910,-900,-890,-880,-870,-860,-850,-840,-830,-820,-810,-800,-790,-780,-770,-760,-750,-740,-730,-720,-710,-700,-690,-680,-670,-660,-650,-640,-630,-620,-610,-600,-590,-580,-570,-560,-550,-540,-530,-520,-510,-500,-490,-480,-470,-460,-450,-440,-430,-420,-410,-400]}},
        "y": {"field": "y", "type": "quantitative", "scale": {"domain": [-600, 0], "nice": false, "zero": false},
              "axis": {"orient": "left", "title": null, "labels": false, "domain": false, "offset": -2.5, "tickSize": 2.5, "values": [0,-10,-20,-30,-40,-50,-60,-70,-80,-90,-100,-110,-120,-130,-140,-150,-160,-170,-180,-190,-200,-210,-220,-230,-240,-250,-260,-270,-280,-290,-300,-310,-320,-330,-340,-350,-360,-370,-380,-390,-400,-410,-420,-430,-440,-450,-460,-470,-480,-490,-500,-510,-520,-530,-540,-550,-560,-570,-580,-590,-600]}},
        "detail": {"field": "c", "type": "nominal"},
        "order": {"field": "i", "type": "quantitative"}
      }
    },
    {
      "mark": {"type": "line", "strokeOpacity": 0},
      "encoding": {
        "x": {"field": "x", "type": "quantitative", "scale": {"domain": [-1000, -400], "nice": false, "zero": false},
              "axis": {"orient": "top", "title": null, "labels": false, "domain": false, "offset": -2.5, "tickSize": 2.5, "values": [-1000,-990,-980,-970,-960,-950,-940,-930,-920,-910,-900,-890,-880,-870,-860,-850,-840,-830,-820,-810,-800,-790,-780,-770,-760,-750,-740,-730,-720,-710,-700,-690,-680,-670,-660,-650,-640,-630,-620,-610,-600,-590,-580,-570,-560,-550,-540,-530,-520,-510,-500,-490,-480,-470,-460,-450,-440,-430,-420,-410,-400]}},
        "y": {"field": "y", "type": "quantitative", "scale": {"domain": [-600, 0], "nice": false, "zero": false},
              "axis": {"orient": "right", "title": null, "labels": false, "domain": false, "offset": -2.5, "tickSize": 2.5, "values": [0,-10,-20,-30,-40,-50,-60,-70,-80,-90,-100,-110,-120,-130,-140,-150,-160,-170,-180,-190,-200,-210,-220,-230,-240,-250,-260,-270,-280,-290,-300,-310,-320,-330,-340,-350,-360,-370,-380,-390,-400,-410,-420,-430,-440,-450,-460,-470,-480,-490,-500,-510,-520,-530,-540,-550,-560,-570,-580,-590,-600]}},
        "detail": {"field": "c", "type": "nominal"},
        "order": {"field": "i", "type": "quantitative"}
      }
    },
    {
      "transform": [{"filter": "datum.c === 1 && datum.i === 0"}],
      "mark": {"type": "text", "font": "Liberation Sans", "fontSize": 20, "color": "black", "align": "center", "baseline": "middle"},
      "encoding": {
        "x": {"datum": -720, "type": "quantitative", "axis": null},
        "y": {"datum": -107, "type": "quantitative", "axis": null},
        "text": {"field": "t", "type": "nominal"}
      }
    }
  ],
  "resolve": {"axis": {"x": "independent", "y": "independent"}}
},
"config": {
  "view": {"stroke": "black", "strokeWidth": 1.2},
  "header": {"title": null, "labelExpr": "''", "labelPadding": 0, "labelFontSize": 1},
  "axis": {"tickColor": "black", "tickWidth": 1, "grid": false,
           "labelFont": "DejaVu Sans", "labelFontWeight": "bold", "labelFontSize": 9, "labelColor": "black",
           "labelOverlap": false, "labelFlush": false, "labelBound": false}
}
}
